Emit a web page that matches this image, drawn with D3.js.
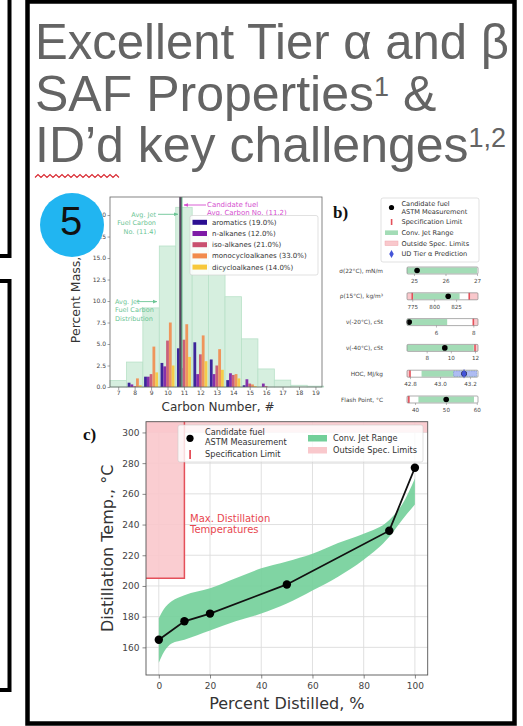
<!DOCTYPE html>
<html><head><meta charset="utf-8">
<script src="https://d3js.org/d3.v7.min.js"></script>
<style>html,body{margin:0;padding:0;background:#fff;}svg{display:block;}</style>
</head><body>
<script>
// ===== DATA =====
const titleLines = ["Excellent Tier α and β", "SAF Properties", "ID’d key challenges"];
const titleSups = ["", "1", "1,2"];
const titleTails = ["", " &", ""];
const badgeLabel = "5";

// panel a
const carbonNumbers = [7,8,9,10,11,12,13,14,15,16,17,18,19];
const jetDistribution = [0.75,2.9,9.2,16.4,20.9,17.5,14.0,10.5,5.6,2.1,0.8,0.2,0.1];
const classNames = ["aromatics (19.0%)","n-alkanes (12.0%)","iso-alkanes (21.0%)","monocycloalkanes (33.0%)","dicycloalkanes (14.0%)"];
const classColors = ["#2c0f92","#7d1ba6","#c9506f","#f28b4c","#f7c83a"];
const aromatics        = [0,0.5,1.2,2.8,4.5,5.2,3.2,0.8,0.2,0,0,0,0];
const nAlkanes         = [0,0.3,1.2,2.4,2.2,1.5,1.5,1.6,0.9,0.4,0,0,0];
const isoAlkanes       = [0,0.1,1.5,5.4,5.5,3.8,2.5,1.4,0.4,0.1,0,0,0];
const monocycloalkanes = [0,1.0,4.7,7.5,7.3,6.0,4.4,1.5,0.3,0,0,0,0];
const dicycloalkanes   = [0,0.2,1.7,2.5,3.5,3.0,2.0,1.0,0.1,0,0,0,0];
const massTicks = [0,2.5,5,7.5,10,12.5,15,17.5,20];
const jetAvgLine = 10.86;        // drawn position of "Avg. Jet Fuel Carbon No."
const candidateAvgLine = 10.78;  // drawn position of candidate avg line
const jetAvgText = ["Avg. Jet","Fuel Carbon","No. (11.4)"];
const candAvgText = ["Candidate fuel","Avg. Carbon No. (11.2)"];
const jetDistText = ["Avg. Jet","Fuel Carbon","Distribution"];

// panel b
const propertyLabels = ["σ(22°C), mN/m","ρ(15°C), kg/m³","ν(-20°C), cSt","ν(-40°C), cSt","HOC, MJ/kg","Flash Point, °C"];
const propertyDomains = [[24.78,27.03],[769,850],[4.45,8.25],[6.37,12.25],[42.78,43.253],[37.4,60.4]];
const propertyTicks = [[25,26,27],[775,800,825],[6,8],[8,10,12],[42.8,43.0,43.2],[40,50,60]];
const propertyTickFormats = ["d","d","d","d",".1f","d"];
const convJetRanges = [[24.78,27.0],[776,829],[4.45,6.6],[6.37,11.9],[42.877,43.245],[41.1,59.1]];
const specMin = [null,775,null,null,42.8,38];
const specMax = [null,840,8,12,null,null];
const candidateValues = [25.1,816,4.57,9.5,43.16,50.1];
const tierAlphaPrediction = [null,null,null,null,43.16,null];
const tierAlphaBand = [null,null,null,null,[43.09,43.245],null];
const legendBLabels = [["Candidate fuel","ASTM Measurement"],["Specification Limit"],["Conv. Jet Range"],["Outside Spec. Limits"],["UD Tier α Prediction"]];

// panel c
const percentDistilled = [0,10,20,50,90,100];
const candidateDistTemps = [165,177,182,201,236,277];
const bandPercent = [0,2,5,10,20,30,40,50,60,70,80,90,95,100];
const convJetUpper = [179,185,190,194,198.5,205,211.5,216,221,228,234,243,253,270];
const convJetLower = [150,157,162.5,165,171,177,182,188.5,197,206,217,232,243,253];
const distTempTicks = [160,180,200,220,240,260,280,300];
const percentTicks = [0,20,40,60,80,100];
const maxDistPercent = 10, maxDistTemp = 205, finalBoilingLimit = 300;
const maxDistText = ["Max. Distillation","Temperatures"];

// ===== DRAW =====
const MPL = "'DejaVu Sans', sans-serif";
const GREEN = "#72cf99", PINK = "#f9c8cc", RED = "#e4505a";
const svg = d3.select("body").append("svg").attr("width",523).attr("height",726);
const defs = svg.append("defs");
function arrowMarker(id, color){
  defs.append("marker").attr("id",id).attr("viewBox","0 0 10 10").attr("refX",9).attr("refY",5)
    .attr("markerWidth",5).attr("markerHeight",5).attr("orient","auto")
    .append("path").attr("d","M0,1L10,5L0,9z").attr("fill",color);
}
arrowMarker("arG","#6cc595"); arrowMarker("arM","#d54fcf");

// outer frames
svg.append("rect").attr("x",-20).attr("y",-20).attr("width",29.5).attr("height",276)
  .attr("fill","none").attr("stroke","#000").attr("stroke-width",4);
svg.append("rect").attr("x",-20).attr("y",281).attr("width",29.5).attr("height",409)
  .attr("fill","none").attr("stroke","#000").attr("stroke-width",4);
svg.append("rect").attr("x",27.5).attr("y",1.5).attr("width",487).attr("height",722)
  .attr("fill","none").attr("stroke","#000").attr("stroke-width",4.5);

// title
const tg = svg.append("g").attr("font-family","'Liberation Sans', Arial, sans-serif").attr("fill","#646464");
titleLines.forEach((t,i)=>{
  const tx = tg.append("text").attr("x",35).attr("y",59+i*51.5).attr("font-size",50)
    .attr("textLength", i===0 ? 474 : null).attr("lengthAdjust","spacingAndGlyphs");
  tx.append("tspan").text(t);
  if(titleSups[i]) tx.append("tspan").attr("font-size",27).attr("dy",-15).text(titleSups[i]);
  if(titleTails[i]) tx.append("tspan").attr("dy",15).text(titleTails[i]);
});
// spell-check squiggle
const sq = d3.range(35,122,3).map((x,i)=>[x, i%2?174.5:177.5]);
svg.append("path").attr("d",d3.line()(sq)).attr("fill","none").attr("stroke","#d8262e").attr("stroke-width",1.1);

// ---------- Panel a ----------
const aF = {x0:110,x1:322,y0:197,y1:387};
const xA = d3.scaleLinear().domain([6.5,19.4]).range([aF.x0,aF.x1]);
const yA = d3.scaleLinear().domain([0,22.1]).range([aF.y1,aF.y0]);
const gA = svg.append("g").attr("font-family",MPL);
gA.selectAll("rect.jet").data(carbonNumbers).join("rect").attr("class","jet")
  .attr("x",c=>xA(c-0.5)).attr("width",c=>xA(c+0.5)-xA(c-0.5))
  .attr("y",(c,i)=>yA(jetDistribution[i])).attr("height",(c,i)=>yA(0)-yA(jetDistribution[i]))
  .attr("fill","#d6efdf").attr("stroke","#b8e1c8").attr("stroke-width",0.8);
const classSeries = [aromatics,nAlkanes,isoAlkanes,monocycloalkanes,dicycloalkanes];
const off = d3.scaleBand().domain(d3.range(5)).range([-0.425,0.425]);
classSeries.forEach((vals,k)=>{
  gA.append("g").selectAll("rect").data(carbonNumbers).join("rect")
    .attr("x",c=>xA(c+off(k))).attr("width",c=>xA(c+off(k)+off.bandwidth())-xA(c+off(k)))
    .attr("y",(c,i)=>yA(vals[i])).attr("height",(c,i)=>yA(0)-yA(vals[i]))
    .attr("fill",classColors[k]).attr("fill-opacity",0.9);
});
// average lines
gA.append("line").attr("x1",xA(jetAvgLine)).attr("x2",xA(jetAvgLine)).attr("y1",aF.y0).attr("y2",aF.y1)
  .attr("stroke","#5dbb86").attr("stroke-width",1.6);
gA.append("line").attr("x1",xA(candidateAvgLine)).attr("x2",xA(candidateAvgLine)).attr("y1",aF.y0).attr("y2",aF.y1)
  .attr("stroke","#5a4560").attr("stroke-width",2.2);
// axes
const axAx = gA.append("g").attr("transform",`translate(0,${aF.y1})`)
  .call(d3.axisBottom(xA).tickValues(carbonNumbers).tickFormat(d3.format("d")).tickSize(3).tickPadding(1));
const axAy = gA.append("g").attr("transform",`translate(${aF.x0},0)`)
  .call(d3.axisLeft(yA).tickValues(massTicks).tickFormat(d3.format(".1f")).tickSize(2.5).tickPadding(1.5));
[axAx,axAy].forEach(a=>{a.select(".domain").remove();a.selectAll("line").attr("stroke","#666").attr("stroke-width",0.6);
  a.selectAll("text").attr("font-size",6).attr("fill","#444").attr("font-family",MPL);});
gA.append("rect").attr("x",aF.x0).attr("y",aF.y0).attr("width",aF.x1-aF.x0).attr("height",aF.y1-aF.y0)
  .attr("fill","none").attr("stroke","#666").attr("stroke-width",0.8);
gA.append("text").attr("x",(aF.x0+aF.x1)/2+2).attr("y",411).attr("text-anchor","middle")
  .attr("font-size",12).attr("fill","#333").text("Carbon Number, #");
gA.append("text").attr("transform",`translate(80,${(aF.y0+aF.y1)/2}) rotate(-90)`).attr("text-anchor","middle")
  .attr("font-size",12.5).attr("fill","#333").text("Percent Mass, %");
// annotations
jetAvgText.forEach((t,i)=>gA.append("text").attr("x",156).attr("y",216.5+i*8.7).attr("text-anchor","end")
  .attr("font-size",6.5).attr("fill","#6cc595").text(t));
gA.append("line").attr("x1",158).attr("x2",178).attr("y1",214.3).attr("y2",214.3)
  .attr("stroke","#6cc595").attr("stroke-width",0.9).attr("marker-end","url(#arG)");
candAvgText.forEach((t,i)=>gA.append("text").attr("x",207).attr("y",206.5+i*8).attr("font-size",7)
  .attr("fill","#d54fcf").text(t));
gA.append("line").attr("x1",206).attr("x2",184).attr("y1",205).attr("y2",205)
  .attr("stroke","#d54fcf").attr("stroke-width",0.9).attr("marker-end","url(#arM)");
jetDistText.forEach((t,i)=>gA.append("text").attr("x",115).attr("y",303.8+i*8.6).attr("font-size",6.5)
  .attr("fill","#6cc595").text(t));
gA.append("line").attr("x1",137).attr("x2",157).attr("y1",301.6).attr("y2",301.6)
  .attr("stroke","#6cc595").attr("stroke-width",0.9).attr("marker-end","url(#arG)");
// legend a
const lA = gA.append("g");
lA.append("rect").attr("x",190).attr("y",215.5).attr("width",128).attr("height",59.5).attr("rx",2)
  .attr("fill","#fff").attr("fill-opacity",0.85).attr("stroke","#ccc").attr("stroke-width",0.6);
classNames.forEach((n,k)=>{
  const cy = 222.3+k*11.2;
  lA.append("rect").attr("x",192.5).attr("y",cy-2.5).attr("width",14.5).attr("height",5).attr("fill",classColors[k]);
  lA.append("text").attr("x",212).attr("y",cy+2.5).attr("font-size",7).attr("fill","#333").text(n);
});

// ---------- Panel b ----------
const gB = svg.append("g").attr("font-family",MPL);
gB.append("text").attr("x",333).attr("y",218).attr("font-family","'Liberation Serif', 'DejaVu Serif', serif")
  .attr("font-weight","bold").attr("font-size",17).attr("fill","#111").text("b)");
const lB = gB.append("g");
lB.append("rect").attr("x",381).attr("y",198).attr("width",98).attr("height",64).attr("rx",2)
  .attr("fill","#fff").attr("stroke","#ccc").attr("stroke-width",0.6);
const lbY = [207.5,222,232.7,243.3,254];
lB.append("circle").attr("cx",391.5).attr("cy",lbY[0]).attr("r",2.6).attr("fill","#000");
lB.append("rect").attr("x",390.8).attr("y",lbY[1]-3).attr("width",1.6).attr("height",6).attr("fill",RED);
lB.append("rect").attr("x",385).attr("y",lbY[2]-2.3).attr("width",13).attr("height",4.6).attr("fill","#a3dcb6");
lB.append("rect").attr("x",385).attr("y",lbY[3]-2.3).attr("width",13).attr("height",4.6).attr("fill",PINK).attr("stroke","#f0a8ae").attr("stroke-width",0.5);
lB.append("path").attr("transform",`translate(391.5,${lbY[4]})`).attr("d",d3.symbol(d3.symbolDiamond).size(18)()).attr("fill","#4454d8");
legendBLabels.forEach((ls,k)=>{
  ls.forEach((t,j)=>{
    const yy = ls.length>1 ? lbY[k]-2+j*8.5 : lbY[k]+2.3;
    lB.append("text").attr("x",401.5).attr("y",yy).attr("font-size",6.6).attr("fill","#333").text(t);
  });
});
const bx0=407, bx1=478, barH=7;
const rowY = d3.scalePoint().domain(d3.range(6)).range([270.5,399.5]);
propertyLabels.forEach((lab,i)=>{
  const x = d3.scaleLinear().domain(propertyDomains[i]).range([bx0,bx1]);
  const cy = rowY(i), g = gB.append("g");
  const d0 = propertyDomains[i][0], d1 = propertyDomains[i][1];
  g.append("rect").attr("x",bx0).attr("y",cy-barH/2).attr("width",bx1-bx0).attr("height",barH).attr("fill","#fff");
  if(specMin[i]!==null) g.append("rect").attr("x",x(d0)).attr("y",cy-barH/2).attr("width",x(specMin[i])-x(d0)).attr("height",barH).attr("fill",PINK);
  if(specMax[i]!==null) g.append("rect").attr("x",x(specMax[i])).attr("y",cy-barH/2).attr("width",x(d1)-x(specMax[i])).attr("height",barH).attr("fill",PINK);
  const cr = convJetRanges[i];
  g.append("rect").attr("x",x(cr[0])).attr("y",cy-barH/2+0.5).attr("width",x(cr[1])-x(cr[0])).attr("height",barH-1).attr("fill","#a3dcb6");
  [specMin[i],specMax[i]].forEach(s=>{ if(s!==null) g.append("rect").attr("x",x(s)-0.8).attr("y",cy-barH/2).attr("width",1.6).attr("height",barH).attr("fill",RED);});
  if(tierAlphaBand[i]) g.append("rect").attr("x",x(tierAlphaBand[i][0])).attr("y",cy-barH/2+0.8).attr("width",x(tierAlphaBand[i][1])-x(tierAlphaBand[i][0]))
      .attr("height",barH-1.6).attr("fill","#aebcf2").attr("stroke","#7f8fe0").attr("stroke-width",0.6).attr("stroke-dasharray","1.5,1");
  g.append("circle").attr("cx",x(candidateValues[i])).attr("cy",cy).attr("r",2.8).attr("fill","#000");
  if(tierAlphaPrediction[i]!==null) g.append("path").attr("transform",`translate(${x(tierAlphaPrediction[i])},${cy})`)
      .attr("d",d3.symbol(d3.symbolDiamond).size(26)()).attr("fill","#4454d8");
  g.append("rect").attr("x",bx0).attr("y",cy-barH/2).attr("width",bx1-bx0).attr("height",barH).attr("rx",1)
    .attr("fill","none").attr("stroke","#8a8a8a").attr("stroke-width",0.7);
  const ax = g.append("g").attr("transform",`translate(0,${cy+barH/2})`)
    .call(d3.axisBottom(x).tickValues(propertyTicks[i]).tickFormat(d3.format(propertyTickFormats[i])).tickSize(2).tickPadding(3));
  ax.select(".domain").remove();
  ax.selectAll("line").attr("stroke","#777").attr("stroke-width",0.5);
  ax.selectAll("text").attr("font-size",5.6).attr("fill","#444").attr("font-family",MPL);
  g.append("text").attr("x",383).attr("y",cy+2).attr("text-anchor","end").attr("font-size",5.8).attr("fill","#444").text(lab);
});

// ---------- Panel c ----------
const cF = {x0:146,x1:427.7,y0:421.7,y1:675};
const xC = d3.scaleLinear().domain([-5,105]).range([cF.x0,cF.x1]);
const yC = d3.scaleLinear().domain([142,307]).range([cF.y1,cF.y0]);
const gC = svg.append("g").attr("font-family",MPL);
gC.append("text").attr("x",83).attr("y",440).attr("font-family","'Liberation Serif', 'DejaVu Serif', serif")
  .attr("font-weight","bold").attr("font-size",17).attr("fill","#111").text("c)");
// grid
gC.append("g").selectAll("line").data(percentTicks).join("line")
  .attr("x1",d=>xC(d)).attr("x2",d=>xC(d)).attr("y1",cF.y0).attr("y2",cF.y1).attr("stroke","#dcdcdc").attr("stroke-width",0.9);
gC.append("g").selectAll("line").data(distTempTicks).join("line")
  .attr("y1",d=>yC(d)).attr("y2",d=>yC(d)).attr("x1",cF.x0).attr("x2",cF.x1).attr("stroke","#dcdcdc").attr("stroke-width",0.9);
// outside spec regions
gC.append("rect").attr("x",xC(-5)).attr("y",yC(307)).attr("width",xC(105)-xC(-5)).attr("height",yC(finalBoilingLimit)-yC(307)).attr("fill",PINK).attr("fill-opacity",0.9);
gC.append("rect").attr("x",xC(-5)).attr("y",yC(307)).attr("width",xC(maxDistPercent)-xC(-5)).attr("height",yC(maxDistTemp)-yC(307)).attr("fill",PINK).attr("fill-opacity",0.9);
gC.append("path").attr("d",d3.line()([[xC(maxDistPercent),yC(307)],[xC(maxDistPercent),yC(maxDistTemp)],[xC(-5),yC(maxDistTemp)]]))
  .attr("fill","none").attr("stroke",RED).attr("stroke-width",1.5);
// conv jet band
const area = d3.area().x((d,i)=>xC(bandPercent[i])).y0((d,i)=>yC(convJetLower[i])).y1((d,i)=>yC(convJetUpper[i])).curve(d3.curveMonotoneX);
gC.append("path").attr("d",area(bandPercent)).attr("fill",GREEN).attr("fill-opacity",0.9);
// candidate line
gC.append("path").attr("d",d3.line().x((d,i)=>xC(percentDistilled[i])).y((d,i)=>yC(candidateDistTemps[i]))(percentDistilled))
  .attr("fill","none").attr("stroke","#111").attr("stroke-width",1.8);
gC.append("g").selectAll("circle").data(percentDistilled).join("circle")
  .attr("cx",d=>xC(d)).attr("cy",(d,i)=>yC(candidateDistTemps[i])).attr("r",4.2).attr("fill","#000");
// red text
maxDistText.forEach((t,i)=>gC.append("text").attr("x",190).attr("y",521.8+i*10.8).attr("font-size",10).attr("fill","#e8474f").text(t));
// legend c
const lC = gC.append("g");
lC.append("rect").attr("x",178).attr("y",425).attr("width",245).attr("height",37).attr("rx",2)
  .attr("fill","#fff").attr("fill-opacity",0.8).attr("stroke","#ccc").attr("stroke-width",0.6);
lC.append("circle").attr("cx",190).attr("cy",438.3).attr("r",3.6).attr("fill","#000");
lC.append("rect").attr("x",189.2).attr("y",450).attr("width",1.8).attr("height",9).attr("fill",RED);
lC.append("rect").attr("x",308).attr("y",435).attr("width",19).attr("height",6.5).attr("fill",GREEN);
lC.append("rect").attr("x",308).attr("y",447).attr("width",19).attr("height",6.5).attr("fill",PINK);
[["Candidate fuel",205,434.5],["ASTM Measurement",205,445],["Specification Limit",205,457],["Conv. Jet Range",333,441],["Outside Spec. Limits",333,453]]
  .forEach(([t,x,y])=>lC.append("text").attr("x",x).attr("y",y).attr("font-size",8.2).attr("fill","#333").text(t));
// axes c
const axCx = gC.append("g").attr("transform",`translate(0,${cF.y1})`)
  .call(d3.axisBottom(xC).tickValues(percentTicks).tickFormat(d3.format("d")).tickSize(3.5).tickPadding(4.5));
const axCy = gC.append("g").attr("transform",`translate(${cF.x0},0)`)
  .call(d3.axisLeft(yC).tickValues(distTempTicks).tickFormat(d3.format("d")).tickSize(3.5).tickPadding(3));
[axCx,axCy].forEach(a=>{a.select(".domain").remove();a.selectAll("line").attr("stroke","#555").attr("stroke-width",0.7);
  a.selectAll("text").attr("font-size",9).attr("fill","#444").attr("font-family",MPL);});
gC.append("rect").attr("x",cF.x0).attr("y",cF.y0).attr("width",cF.x1-cF.x0).attr("height",cF.y1-cF.y0)
  .attr("fill","none").attr("stroke","#555").attr("stroke-width",0.9);
gC.append("text").attr("x",(cF.x0+cF.x1)/2).attr("y",709).attr("text-anchor","middle").attr("font-size",16).attr("fill","#333").text("Percent Distilled, %");
gC.append("text").attr("transform",`translate(112.5,${(cF.y0+cF.y1)/2}) rotate(-90)`).attr("text-anchor","middle")
  .attr("font-size",16).attr("fill","#333").text("Distillation Temp., °C");

// ---------- badge ----------
svg.append("circle").attr("cx",72).attr("cy",225).attr("r",32).attr("fill","#21b5f1");
svg.append("text").attr("x",71).attr("y",235).attr("text-anchor","middle").attr("font-family","'Liberation Sans', Arial, sans-serif")
  .attr("font-size",40).attr("fill","#111").text(badgeLabel);
</script>
</body></html>
